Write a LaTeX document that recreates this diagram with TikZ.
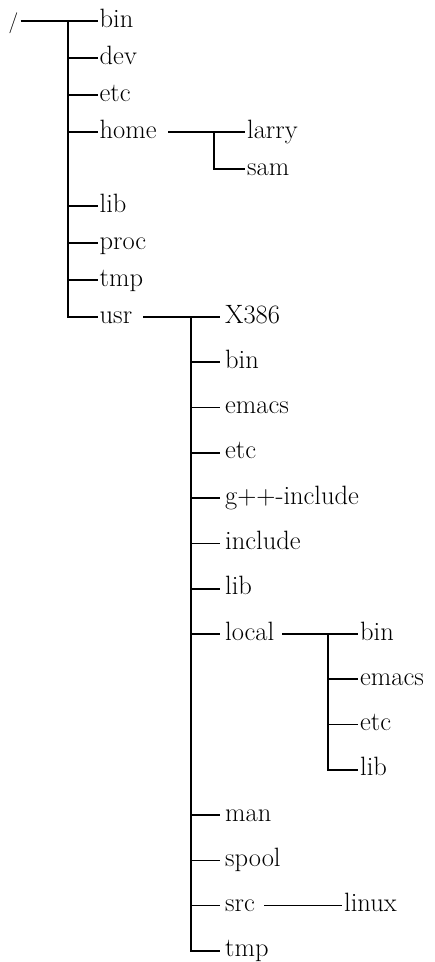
\documentclass[tikz,border=0pt]{standalone}
\usepackage{fontspec}
\newcommand\treefont{\fontsize{26.5}{30}\selectfont}
\newcommand\rootfont{\fontsize{21}{24}\selectfont}
\begin{document}
\begin{tikzpicture}[x=1pt,y=-1pt,
  conn/.style={line width=1.7pt},
  lbl/.style={anchor=west, inner ysep=0pt, text height=12pt, text depth=0pt, font=\treefont},
  la/.style={lbl, inner xsep=2pt},
  lb/.style={lbl, inner xsep=5pt}]
\useasboundingbox (0,0) rectangle (435,962);
% level 0 and 1
\node[anchor=west, inner ysep=0pt, inner xsep=2pt, text height=14pt, text depth=0pt, font=\rootfont] (root) at (6.5,21) {/};
\node[la] (bin)  at (97.5,21)  {bin};
\node[la] (dev)  at (97.5,58)  {dev};
\node[la] (etc)  at (97.5,95)  {etc};
\node[la] (home) at (97.5,132) {home};
\node[la] (lib)  at (97.5,206) {lib};
\node[la] (proc) at (97.5,243) {proc};
\node[la] (tmp)  at (97.5,280) {tmp};
\node[la] (usr)  at (97.5,317) {usr};
% home subtree
\node[la] (larry) at (245,132) {larry};
\node[la] (sam)   at (245,169) {sam};
% usr subtree
\node[lb] (x386)    at (220,317)   {X386};
\node[lb] (ubin)    at (220,362.3) {bin};
\node[lb] (emacs)   at (220,407.6) {emacs};
\node[lb] (uetc)    at (220,452.8) {etc};
\node[lb] (gpp)     at (220,498.1) {g++-include};
\node[lb] (include) at (220,543.4) {include};
\node[lb] (ulib)    at (220,588.7) {lib};
\node[lb] (local)   at (220,634)   {local};
\node[lb] (man)     at (220,815.1) {man};
\node[lb] (spool)   at (220,860.4) {spool};
\node[lb] (src)     at (220,905.6) {src};
\node[lb] (utmp)    at (220,950.9) {tmp};
% local subtree
\node[la] (lbin)   at (358,634)   {bin};
\node[la] (lemacs) at (358,679.2) {emacs};
\node[la] (letc)   at (358,724.5) {etc};
\node[la] (llib)   at (358,769.8) {lib};
% src subtree
\node[la] (linux) at (342,905.6) {linux};
% junction coordinates
\coordinate (t1) at (68,21);
\coordinate (homeout) at (168,132);
\coordinate (t4) at (214,132);
\coordinate (usrout) at (143,317);
\coordinate (t2) at (191,317);
\coordinate (localout) at (282,634);
\coordinate (t3) at (328,634);
\coordinate (srcout) at (264,905.6);
% connectors
\draw[conn] (root.east) -- (bin.west);
\draw[conn] (t1) |- (usr.west);
\foreach \n in {dev,etc,home,lib,proc,tmp}
  \draw[conn] (t1 |- \n.west) -- (\n.west);
\draw[conn] (homeout) -- (larry.west);
\draw[conn] (t4) |- (sam.west);
\draw[conn] (usrout) -- (x386.west);
\draw[conn] (t2) |- (utmp.west);
\foreach \n in {ubin,emacs,uetc,gpp,include,ulib,local,man,spool,src}
  \draw[conn] (t2 |- \n.west) -- (\n.west);
\draw[conn] (localout) -- (lbin.west);
\draw[conn] (t3) |- (llib.west);
\foreach \n in {lemacs,letc}
  \draw[conn] (t3 |- \n.west) -- (\n.west);
\draw[conn] (srcout) -- (linux.west);
\end{tikzpicture}
\end{document}
